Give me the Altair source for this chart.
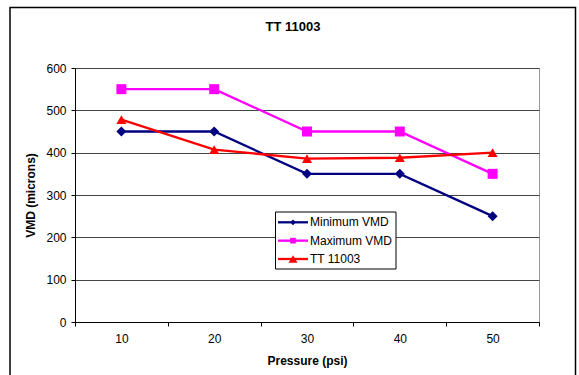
import altair as alt
import pandas as pd

# ---- data ----
pressure = [10, 20, 30, 40, 50]
min_vmd = [450, 450, 350, 350, 250]
max_vmd = [550, 550, 450, 450, 350]
tt_11003 = [478, 407, 386, 388, 400]
series_names = ["Minimum VMD", "Maximum VMD", "TT 11003"]
series_colors = ["#000080", "#FF00FF", "#FF0000"]
series_shapes = ["diamond", "square", "triangle-up"]
y_ticks = [0, 100, 200, 300, 400, 500, 600]
chart_title = "TT 11003"
x_title = "Pressure (psi)"
y_title = "VMD (microns)"

rows = []
for i, (name, vals) in enumerate(zip(series_names, [min_vmd, max_vmd, tt_11003])):
    for p, v in zip(pressure, vals):
        rows.append({"pressure": p, "vmd": v, "series": name, "order": i})
df = pd.DataFrame(rows)
legend_df = pd.DataFrame({"series": series_names})

FONT = "Liberation Sans"
W, H = 464, 254
PAD_L, PAD_T, PAD_R, PAD_B = 75, 68, 40, 53

# styling (pixel sizes)
marker_sizes = [100, 100, 100]
legend_marker_sizes = [32, 32, 80]

x_enc = alt.X(
    "pressure:O",
    scale=alt.Scale(type="band", paddingInner=0, paddingOuter=0),
    axis=alt.Axis(
        labelAngle=0, tickBand="extent", grid=False, tickSize=4, labelPadding=7,
        domainColor="black", tickColor="black", labelColor="black",
        labelFont=FONT, labelFontSize=12, title=x_title, titleFont=FONT,
        titleFontSize=12, titleFontWeight="bold", titleColor="black",
        titleY=38.5, titleBaseline="middle",
    ),
)
y_enc = alt.Y(
    "vmd:Q",
    scale=alt.Scale(domain=[0, 600], nice=False),
    axis=alt.Axis(
        values=y_ticks, grid=True, gridColor="#444444", gridWidth=1,
        domainColor="black", tickColor="black", tickSize=4, labelPadding=5,
        labelFont=FONT, labelFontSize=12, labelColor="black",
        title=y_title, titleFont=FONT, titleFontSize=12, titleFontWeight="bold",
        titleColor="black", titleX=-44.5, titleY=127, titleAngle=270,
        titleAlign="center", titleBaseline="middle",
    ),
)
color_scale = alt.Scale(domain=series_names, range=series_colors)

base = alt.Chart(df)
lines = base.mark_line(strokeWidth=2.3).encode(
    x=x_enc, y=y_enc,
    color=alt.Color("series:N", scale=color_scale, legend=None),
    detail="series:N",
    order="pressure:O",
)

point_layers = []
for name, col, shp, sz in zip(series_names, series_colors, series_shapes, marker_sizes):
    point_layers.append(
        base.transform_filter(alt.datum.series == name)
        .mark_point(filled=True, opacity=1, size=sz, shape=shp, color=col)
        .encode(x=x_enc, y=y_enc)
    )

one = alt.InlineData(values=[{"k": 1}])
frame = alt.Chart(one).mark_rect(filled=False, stroke="black", strokeWidth=1.5).encode(
    x=alt.value(-65), x2=alt.value(500.5), y=alt.value(-60.5), y2=alt.value(330)
)
title = alt.Chart(one).mark_text(
    text=chart_title, font=FONT, fontSize=13, fontWeight="bold",
    align="center", baseline="alphabetic", color="black",
).encode(x=alt.value(218), y=alt.value(-37.5))

main = alt.layer(frame, lines, *point_layers, title)

# ---- legend, drawn from the series list ----
leg_y = alt.Y(
    "series:N",
    scale=alt.Scale(type="point", domain=series_names, range=[154.3, 191], padding=0),
    axis=None,
)
leg_base = alt.Chart(legend_df)
leg_box = alt.Chart(one).mark_rect(fill="white", stroke="black", strokeWidth=1).encode(
    x=alt.value(200.5), x2=alt.value(321), y=alt.value(144), y2=alt.value(201)
)
leg_lines = leg_base.mark_rule(strokeWidth=2.3).encode(
    x=alt.value(203), x2=alt.value(233), y=leg_y,
    color=alt.Color("series:N", scale=color_scale, legend=None),
)
leg_marks = []
for name, col, shp, sz in zip(series_names, series_colors, series_shapes, legend_marker_sizes):
    leg_marks.append(
        leg_base.transform_filter(alt.datum.series == name)
        .mark_point(filled=True, opacity=1, size=sz, shape=shp, color=col)
        .encode(x=alt.value(218), y=leg_y)
    )
leg_text = leg_base.mark_text(
    align="left", baseline="middle", font=FONT, fontSize=12, color="black"
).encode(x=alt.value(235), y=leg_y, text="series:N")

legend = alt.layer(leg_box, leg_lines, *leg_marks, leg_text)

chart = alt.layer(main, legend).resolve_scale(y="independent").properties(
    width=W, height=H,
    autosize=alt.AutoSizeParams(type="none"),
    padding={"left": PAD_L, "top": PAD_T, "right": PAD_R, "bottom": PAD_B},
    background="white",
).configure_view(stroke="#999999", strokeWidth=1)

chart.save("out.html", embed_options={"renderer": "svg", "actions": False})
